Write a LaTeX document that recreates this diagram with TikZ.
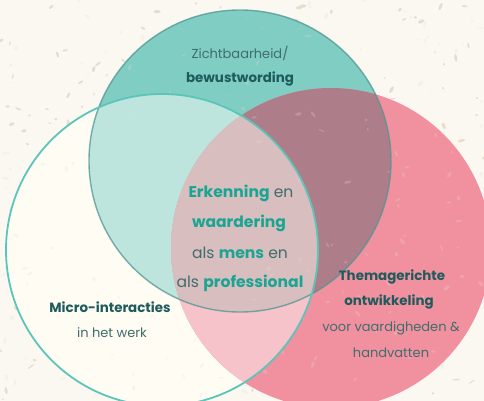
\documentclass[tikz,border=0pt]{standalone}
\usepackage{fontspec}
\setmainfont{Poppins}
\definecolor{bgc}{HTML}{FBF8F2}
\definecolor{speckc}{HTML}{E6DDCF}
\definecolor{topc}{HTML}{7FCDC3}
\definecolor{leftc}{HTML}{FEFCF3}
\definecolor{rightc}{HTML}{F191A0}
\definecolor{tlc}{HTML}{BDE5DD}
\definecolor{trc}{HTML}{AD7E89}
\definecolor{lrc}{HTML}{F5C3C9}
\definecolor{tlrc}{HTML}{D9BEBF}
\definecolor{topline}{HTML}{4E9690}
\definecolor{leftline}{HTML}{5CC5B9}
\definecolor{darkt}{HTML}{1E5B5C}
\definecolor{grayt}{HTML}{3F6D6C}
\definecolor{hit}{HTML}{1AA593}
\tikzset{
  lbl/.style={inner sep=0pt, anchor=center, text=grayt, font=\fontsize{13}{15}\selectfont},
  lblb/.style={inner sep=0pt, anchor=center, text=darkt, font=\fontsize{13.4}{15}\selectfont\bfseries},
  ctr/.style={inner sep=0pt, anchor=center, text=grayt, font=\fontsize{15.6}{18}\selectfont},
}
\newcommand{\hl}[1]{\textcolor{hit}{\bfseries #1}}
\begin{document}
\begin{tikzpicture}[x=1pt,y=-1pt]
\useasboundingbox (0,0) rectangle (484,401);
\fill[bgc] (0,0) rectangle (484,401);
% background speckles
\pgfmathsetseed{11}
\foreach \i in {1,...,220}{
  \pgfmathsetmacro\px{rnd*484}
  \pgfmathsetmacro\py{rnd*401}
  \pgfmathsetmacro\ra{1+rnd*3}
  \pgfmathsetmacro\rb{0.6+rnd*1.2}
  \pgfmathsetmacro\rot{rnd*180}
  \fill[speckc] (\px,\py) ellipse [x radius=\ra, y radius=\rb, rotate=\rot];
}
% circles
\fill[topc] (240,161) circle[radius=151];
\fill[leftc] (162,250) circle[radius=156];
\fill[rightc] (331,248) circle[radius=160];
\begin{scope}
  \clip (240,161) circle[radius=151];
  \fill[tlc] (162,250) circle[radius=156];
\end{scope}
\begin{scope}
  \clip (240,161) circle[radius=151];
  \fill[trc] (331,248) circle[radius=160];
\end{scope}
\begin{scope}
  \clip (162,250) circle[radius=156];
  \fill[lrc] (331,248) circle[radius=160];
\end{scope}
\begin{scope}
  \clip (240,161) circle[radius=151];
  \clip (162,250) circle[radius=156];
  \fill[tlrc] (331,248) circle[radius=160];
\end{scope}
% subtle speckles over circles
\pgfmathsetseed{23}
\foreach \i in {1,...,160}{
  \pgfmathsetmacro\px{rnd*484}
  \pgfmathsetmacro\py{rnd*401}
  \pgfmathsetmacro\ra{1+rnd*3}
  \pgfmathsetmacro\rb{0.6+rnd*1.2}
  \pgfmathsetmacro\rot{rnd*180}
  \fill[speckc, opacity=0.25] (\px,\py) ellipse [x radius=\ra, y radius=\rb, rotate=\rot];
}
\draw[topline, line width=1.4pt, opacity=0.75] (240,161) circle[radius=151];
\draw[leftline, line width=1.8pt] (162,250) circle[radius=156];
% texts
\node[lbl]  (z1) at (240,53) {Zichtbaarheid/};
\node[lblb] (z2) at (240,79) {bewustwording};
\node[ctr] (c1) at (241,193) {\hl{Erkenning} en};
\node[ctr] (c2) at (239,223) {\hl{waardering}};
\node[ctr] (c3) at (240,253) {als \hl{mens} en};
\node[ctr] (c4) at (240,283) {als \hl{professional}};
\node[lblb] (m1) at (110,307) {Micro-interacties};
\node[lbl]  (m2) at (112,333) {in het werk};
\node[lblb] (t1) at (392,277) {Themagerichte};
\node[lblb] (t2) at (389,302) {ontwikkeling};
\node[lbl]  (t3) at (391,328) {voor vaardigheden \&};
\node[lbl]  (t4) at (391,353) {handvatten};
\end{tikzpicture}
\end{document}
